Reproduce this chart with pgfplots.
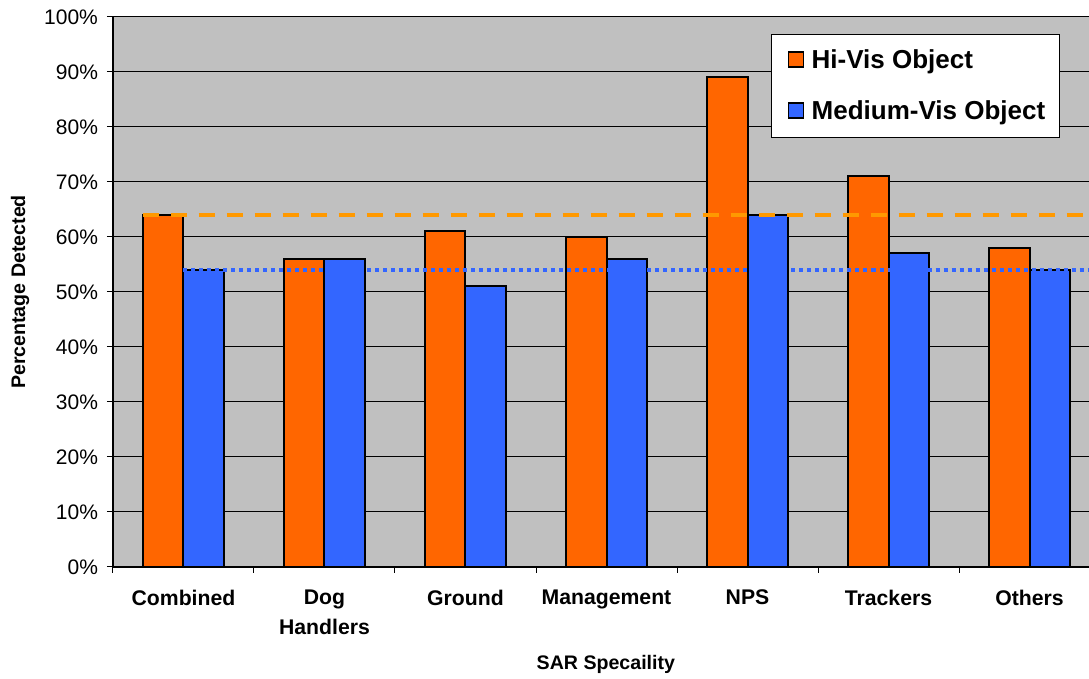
\documentclass[border=0pt]{standalone}
\usepackage{pgfplots}
\pgfplotsset{compat=1.18}
\usepackage{fontspec}
\setmainfont{Liberation Sans}
\definecolor{hivis}{HTML}{FF6600}
\definecolor{medvis}{HTML}{3366FF}
\definecolor{plotbg}{HTML}{C0C0C0}
\definecolor{hiline}{HTML}{FF9900}
\begin{document}
\begin{tikzpicture}
\begin{axis}[
  scale only axis,
  width=488pt, height=275pt,
  ybar=0pt, bar width=0.29,
  xmin=-0.5, xmax=6.422,
  ymin=0, ymax=100,
  axis x line*=bottom, axis y line*=left,
  axis line style={black, line width=0.6pt},
  axis background/.style={fill=plotbg},
  ytick={0,10,...,100},
  yticklabel={\pgfmathprintnumber{\tick}\%},
  /pgf/number format/assume math mode=true,
  yticklabel style={font=\fontsize{10.5}{12}\selectfont, xshift=-1pt},
  ymajorgrids,
  grid style={black, line width=0.5pt},
  xtick={0,...,6},
  xticklabels={Combined,{Dog\\Handlers},Ground,Management,NPS,Trackers,Others},
  xticklabel style={font=\bfseries\fontsize{10.6}{15}\selectfont, align=center, yshift=-5pt},
  minor xtick={-0.5,0.5,...,5.5},
  tick align=outside,
  major tick length=3pt, minor tick length=3pt,
  x tick style={draw=none},
  minor x tick style={draw=black, line width=0.5pt},
  y tick style={black, line width=0.5pt},
  xlabel={SAR Specaility}, ylabel={Percentage Detected},
  every axis x label/.style={at={(axis description cs:0.505,-0.178)}, anchor=center, font=\bfseries\fontsize{9.8}{11}\selectfont},
  every axis y label/.style={at={(axis description cs:-0.0953,0.5)}, rotate=90, anchor=center, font=\bfseries\fontsize{9.8}{11}\selectfont},
  legend style={at={(0.970,0.969)}, anchor=north east, draw=black, line width=0.5pt, fill=white,
    font=\bfseries\fontsize{13}{15}\selectfont, row sep=10.5pt, inner xsep=5pt, inner ysep=5.5pt},
  legend cell align=left,
]
\addplot[fill=hivis, draw=black, line width=1pt,
  legend image code/.code={\path[draw=none, fill=none] (0pt,0pt) -- (13pt,0pt);
    \draw[fill=hivis, draw=black, line width=0.8pt] (3.5pt,-3.2pt) rectangle (11pt,4.3pt);}]
  coordinates {(0,64) (1,56) (2,61) (3,60) (4,89) (5,71) (6,58)};
\addlegendentry{Hi-Vis Object}
\addplot[fill=medvis, draw=black, line width=1pt,
  legend image code/.code={\path[draw=none, fill=none] (0pt,0pt) -- (13pt,0pt);
    \draw[fill=medvis, draw=black, line width=0.8pt] (3.5pt,-3.2pt) rectangle (11pt,4.3pt);}]
  coordinates {(0,54) (1,56) (2,51) (3,56) (4,64) (5,57) (6,54)};
\addlegendentry{Medium-Vis Object}
\addplot[sharp plot, forget plot, draw=hiline, line width=2pt, dash pattern=on 8pt off 6pt]
  coordinates {(-0.29,64) (6.422,64)};
\addplot[sharp plot, forget plot, draw=medvis, line width=2pt, dash pattern=on 2pt off 2pt]
  coordinates {(0.0,54) (6.422,54)};
\end{axis}
\pgfresetboundingbox
\useasboundingbox (current axis.south west) ++(-56.5pt,-56pt) rectangle ++(544.5pt,339.5pt);
\end{tikzpicture}
\end{document}
